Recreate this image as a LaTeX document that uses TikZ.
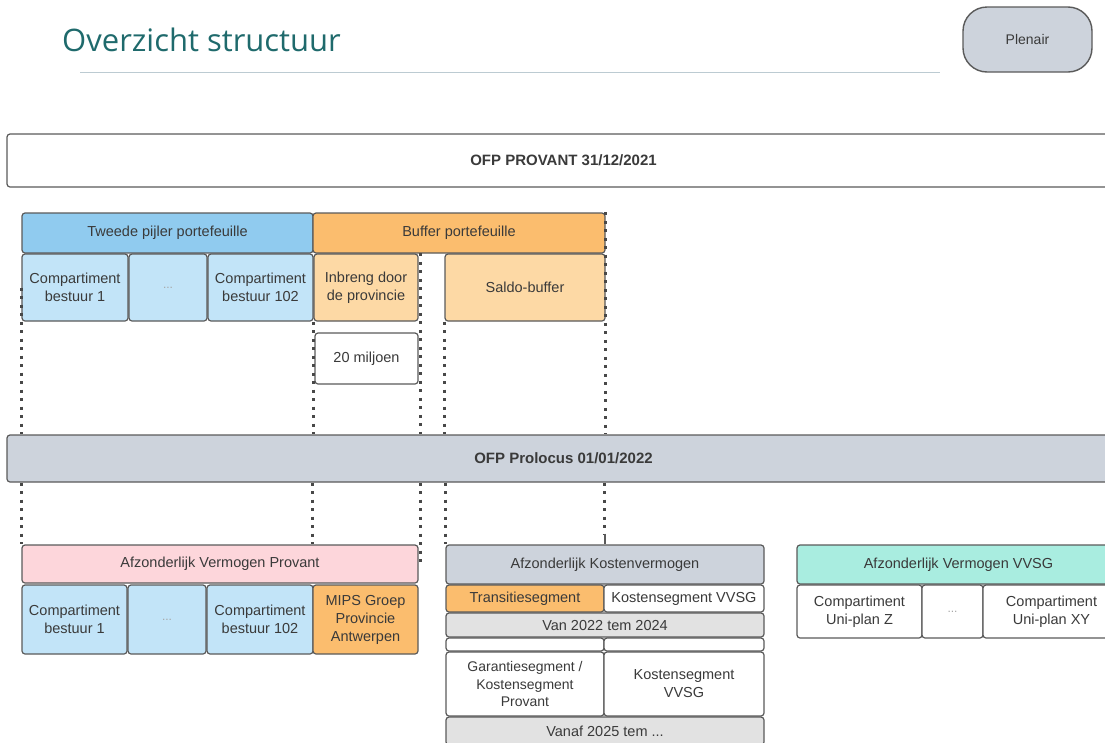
\documentclass[tikz,border=0pt]{standalone}
\usepackage{fontspec}
\setmainfont{Liberation Sans}
\newfontfamily\titlefont{Open Sans}
\definecolor{bord}{HTML}{5A5A5A}
\definecolor{txt}{HTML}{3A3A3A}
\definecolor{bluedk}{HTML}{90CBEF}
\definecolor{bluelt}{HTML}{C2E4F8}
\definecolor{orng}{HTML}{FBBD6E}
\definecolor{orlt}{HTML}{FDD9A5}
\definecolor{pinkc}{HTML}{FDD6DB}
\definecolor{greyb}{HTML}{CDD3DC}
\definecolor{mint}{HTML}{A9EDE0}
\definecolor{greylt}{HTML}{E2E2E2}
\definecolor{teal}{HTML}{1F6A6C}
\definecolor{rulec}{HTML}{BCCBD2}
\newcommand\cellbox[7]{\node[cell,#6,minimum width={#4-#2},minimum height={#5-#3}] (#1) at ({(#2+#4)/2},{(#3+#5)/2}) {#7};}
\begin{document}
\begin{tikzpicture}[x=1pt,y=-1pt,
  cell/.style={draw=bord,line width=1.2pt,rounded corners=3pt,inner sep=0pt,align=center,
    text=txt,font=\fontsize{14.5}{18}\selectfont},
  bigt/.style={font=\fontsize{15}{17}\selectfont\bfseries},
  dots/.style={text=gray!70,font=\fontsize{12}{14}\selectfont},
  dotline/.style={draw=bord!80!black,line width=3pt,dash pattern=on 3pt off 5.5pt}]
\useasboundingbox (0,0) rectangle (1105,742);
\clip (0,0) rectangle (1105,742);
% title
\node[anchor=base west,inner sep=0pt,text=teal,font=\titlefont\fontsize{31}{34}\selectfont] (title) at (62,51) {Overzicht structuur};
\coordinate (rl) at (80,72);
\coordinate (rr) at (940,72);
\draw[rulec,line width=1pt] (rl) -- (rr);
\node[draw=bord,line width=1.4pt,fill=greyb,rounded corners=24pt,minimum width=129pt,minimum height=65pt,
  inner sep=0pt,text=txt,font=\fontsize{14}{16}\selectfont] (plen) at (1027.5,39.5) {Plenair};
% top
\cellbox{prov}{7}{134}{1120}{187}{fill=white,bigt}{OFP PROVANT 31/12/2021}
\cellbox{tp}{22}{213}{313}{253}{fill=bluedk}{Tweede pijler portefeuille}
\cellbox{buf}{313}{213}{605}{253}{fill=orng}{Buffer portefeuille}
\cellbox{c1}{22}{254}{128}{321}{fill=bluelt}{Compartiment\\bestuur 1}
\cellbox{cd}{129}{254}{207}{321}{fill=bluelt,dots}{...}
\cellbox{c102}{208}{254}{313}{321}{fill=bluelt}{Compartiment\\bestuur 102}
\cellbox{inb}{314}{254}{418}{321}{fill=orlt}{Inbreng door\\de provincie}
\cellbox{saldo}{445}{254}{605}{321}{fill=orlt}{Saldo-buffer}
\cellbox{mil}{315}{333}{418}{384}{fill=white}{20 miljoen}
\cellbox{prol}{7}{435}{1120}{482}{fill=greyb,bigt}{OFP Prolocus 01/01/2022}
% bottom left
\cellbox{avp}{22}{545}{418}{583}{fill=pinkc}{Afzonderlijk Vermogen Provant}
\cellbox{bc1}{22}{585}{127}{654}{fill=bluelt}{Compartiment\\bestuur 1}
\cellbox{bcd}{128}{585}{206}{654}{fill=bluelt,dots}{...}
\cellbox{bc102}{207}{585}{313}{654}{fill=bluelt}{Compartiment\\bestuur 102}
\cellbox{mips}{313}{585}{418}{654}{fill=orng}{MIPS Groep\\Provincie\\Antwerpen}
% bottom middle
\cellbox{akv}{446}{545}{764}{584}{fill=greyb}{Afzonderlijk Kostenvermogen}
\cellbox{trans}{446}{585}{604}{612}{fill=orng}{Transitiesegment}
\cellbox{kvv1}{604}{585}{764}{612}{fill=white}{Kostensegment VVSG}
\cellbox{van}{446}{613}{764}{637}{fill=greylt}{Van 2022 tem 2024}
\cellbox{e1}{446}{638}{604}{651}{fill=white}{}
\cellbox{e2}{604}{638}{764}{651}{fill=white}{}
\cellbox{gar}{446}{652}{604}{716}{fill=white,font=\fontsize{14}{17.5}\selectfont}{Garantiesegment /\\Kostensegment\\Provant}
\cellbox{kvv2}{604}{652}{764}{716}{fill=white}{Kostensegment\\VVSG}
\cellbox{vanaf}{446}{717}{764}{745}{fill=greylt}{Vanaf 2025 tem ...}
% bottom right
\cellbox{avv}{797}{545}{1120}{584}{fill=mint}{Afzonderlijk Vermogen VVSG}
\cellbox{u1}{797}{585}{922}{638}{fill=white}{Compartiment\\Uni-plan Z}
\cellbox{ud}{922}{585}{983}{638}{fill=white,dots}{...}
\cellbox{u2}{983}{585}{1120}{638}{fill=white}{Compartiment\\Uni-plan XY}
% helper coordinates
\coordinate (inbr) at ([xshift=2pt]inb.north east);
\coordinate (avpr) at ([xshift=2pt]avp.east);
\coordinate (akvt) at (akv.north -| trans.north east);
\coordinate (akvs) at ([yshift=10pt]akvt);
% dotted connectors top
\draw[dotline] (c1.west) -- (prol.north -| c1.west);
\draw[dotline] (inb.south west) -- (prol.north -| inb.south west);
\draw[dotline] (inbr) -- (prol.north -| inbr);
\draw[dotline] (saldo.south west) -- (prol.north -| saldo.south west);
\draw[dotline] (buf.north east) -- (prol.north -| buf.north east);
% dotted connectors bottom
\draw[dotline] (prol.south -| avp.north west) -- (avp.north west);
\draw[dotline] (prol.south -| mips.north west) -- (avp.north -| mips.north west);
\draw[dotline] (prol.south -| avpr) -- (avpr);
\draw[dotline] (prol.south -| akv.north west) -- (akv.north west);
\draw[dotline] (prol.south -| trans.north east) -- (akvs);
\draw[bord,line width=2pt] (akvs) -- (akvt);
\end{tikzpicture}
\end{document}
